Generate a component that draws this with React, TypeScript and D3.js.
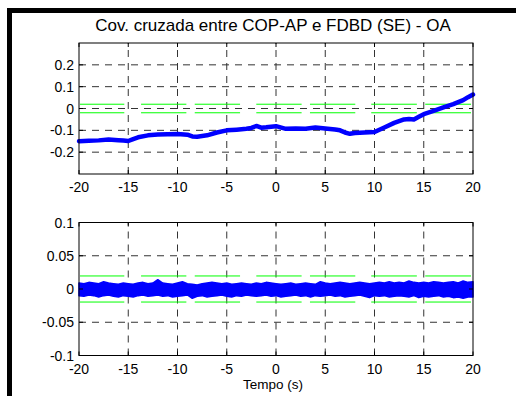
import React from "react";
import * as d3 from "d3";

const xTicks = [-20, -15, -10, -5, 0, 5, 10, 15, 20];
const topYTicks = [-0.2, -0.1, 0, 0.1, 0.2];
const botYTicks = [-0.1, -0.05, 0, 0.05, 0.1];

const topTime = [-20,-19,-18,-17,-16,-15.5,-15,-14.5,-14,-13,-12,-11,-10,-9,-8.5,-8,-7,-6,-5,-4,-3,-2.5,-2,-1.5,-1,0,1,2,3,4,5,6,6.5,7,7.5,8,9,10,11,12,13,13.5,14,14.5,15,16,17,18,19,19.5,20];
const topValue = [-0.150,-0.148,-0.146,-0.142,-0.145,-0.147,-0.149,-0.140,-0.132,-0.123,-0.119,-0.118,-0.117,-0.120,-0.128,-0.129,-0.123,-0.110,-0.100,-0.097,-0.093,-0.089,-0.080,-0.088,-0.086,-0.081,-0.093,-0.092,-0.093,-0.087,-0.092,-0.096,-0.100,-0.110,-0.116,-0.112,-0.110,-0.108,-0.087,-0.066,-0.050,-0.048,-0.050,-0.038,-0.026,-0.011,0.005,0.020,0.038,0.052,0.064];

// bottom: envelope of the noisy cross-covariance (thousandths), every 0.5 s from -20 to 20
const botUpper = [9,8,10,9,8,11,9,8,7,9, 8,7,9,10,8,9,14,9,8,7, 9,11,8,7,6,8,9,10,9,8, 9,7,8,9,8,7,9,8,10,9, 8,7,8,9,7,8,9,8,7,11, 9,8,9,10,9,8,9,10,9,8, 9,10,9,11,9,10,9,12,10,9, 10,9,11,10,9,10,11,9,12,10, 11];
const botLower = [-10,-11,-9,-10,-12,-10,-9,-11,-12,-10, -11,-12,-10,-9,-11,-10,-9,-11,-10,-12, -11,-10,-9,-14,-11,-10,-12,-11,-10,-9, -11,-12,-10,-11,-9,-10,-11,-10,-9,-11, -10,-12,-11,-10,-9,-11,-10,-12,-10,-11, -10,-9,-11,-10,-12,-11,-10,-9,-11,-13, -10,-11,-10,-12,-11,-10,-11,-12,-10,-13, -11,-12,-11,-10,-12,-11,-13,-12,-14,-12, -12];
const botTimeStart = -20;
const botTimeStep = 0.5;

const confidence = 0.0196;
const greenStart = [-19.9, -13.7, -8.25, -2.0, 3.45, 9.67, 15.15];
const greenEnd = [-15.4, -9.1, -3.65, 2.6, 8.05, 14.3, 19.8];

const title = "Cov. cruzada entre COP-AP e FDBD (SE) - OA";
const xLabel = "Tempo (s)";

const FONT = "'Liberation Sans', Arial, Helvetica, sans-serif";
const GRID = "#333";
const DASH = "7,6";

const x = d3.scaleLinear().domain([-20, 20]).range([79, 473]);
const yTop = d3.scaleLinear().domain([-0.3, 0.3]).range([174, 43]);
const yBot = d3.scaleLinear().domain([-0.1, 0.1]).range([355.5, 222.5]);

function fmt(v: number) {
  if (Math.abs(v) < 1e-9) return "0";
  return String(+v.toFixed(2));
}

function Axes({ y, yTicks }: { y: d3.ScaleLinear<number, number>; yTicks: number[] }) {
  const [x0, x1] = x.range();
  const [yb, yt] = y.range();
  const [dmin, dmax] = y.domain();
  return (
    <g>
      {xTicks.filter((t) => t > -20 && t < 20).map((t) => (
        <line key={"gx" + t} x1={x(t)} x2={x(t)} y1={yb} y2={yt} stroke={GRID} strokeDasharray={DASH} />
      ))}
      {yTicks.filter((t) => t > dmin + 1e-9 && t < dmax - 1e-9).map((t) => (
        <line key={"gy" + t} x1={x0} x2={x1} y1={y(t)} y2={y(t)} stroke={GRID} strokeDasharray={DASH} />
      ))}
      {greenStart.map((s, i) => (
        <g key={"gr" + i}>
          <line x1={x(s)} x2={x(greenEnd[i])} y1={y(confidence)} y2={y(confidence)} stroke="#00ff00" strokeWidth={1} />
          <line x1={x(s)} x2={x(greenEnd[i])} y1={y(-confidence)} y2={y(-confidence)} stroke="#00ff00" strokeWidth={1} />
        </g>
      ))}
    </g>
  );
}

function Frame({ y, yTicks }: { y: d3.ScaleLinear<number, number>; yTicks: number[] }) {
  const [x0, x1] = x.range();
  const [yb, yt] = y.range();
  return (
    <g>
      <rect x={x0} y={yt} width={x1 - x0} height={yb - yt} fill="none" stroke="#000" strokeWidth={1} />
      {xTicks.map((t) => (
        <g key={"tx" + t}>
          <line x1={x(t)} x2={x(t)} y1={yb} y2={yb - 4} stroke="#000" />
          <line x1={x(t)} x2={x(t)} y1={yt} y2={yt + 4} stroke="#000" />
          <text x={x(t)} y={yb + 18} textAnchor="middle" fontSize={14} fontFamily={FONT}>{fmt(t)}</text>
        </g>
      ))}
      {yTicks.map((t) => (
        <g key={"ty" + t}>
          <line x1={x0} x2={x0 + 4} y1={y(t)} y2={y(t)} stroke="#000" />
          <line x1={x1} x2={x1 - 4} y1={y(t)} y2={y(t)} stroke="#000" />
          <text x={x0 - 5} y={y(t) + 5} textAnchor="end" fontSize={14} fontFamily={FONT}>{fmt(t)}</text>
        </g>
      ))}
    </g>
  );
}

export default function App() {
  const topLine = d3.line<number>().x((_, i) => x(topTime[i])).y((v) => yTop(v)).curve(d3.curveLinear)(topValue) || "";
  const band = d3
    .area<number>()
    .x((_, i) => x(botTimeStart + i * botTimeStep))
    .y0((_, i) => yBot(botLower[i] / 1000))
    .y1((v) => yBot(v / 1000))(botUpper) || "";
  return (
    <svg width={516} height={396} style={{ position: "absolute", left: 0, top: 0, display: "block" }}>
      <rect x={0} y={0} width={516} height={396} fill="#fff" />
      <rect x={7} y={8} width={509} height={5} fill="#000" />
      <rect x={7} y={8} width={5} height={388} fill="#000" />
      <text x={273} y={31} textAnchor="middle" fontSize={17} fontFamily={FONT}>{title}</text>

      <Axes y={yTop} yTicks={topYTicks} />
      <path d={topLine} fill="none" stroke="#0000ff" strokeWidth={4.5} strokeLinejoin="round" strokeLinecap="round" />
      <Frame y={yTop} yTicks={topYTicks} />

      <Axes y={yBot} yTicks={botYTicks} />
      <path d={band} fill="#0000ff" stroke="#0000ff" strokeWidth={1.5} strokeLinejoin="round" />
      <Frame y={yBot} yTicks={botYTicks} />

      <text x={273} y={389} textAnchor="middle" fontSize={13.5} fontFamily={FONT}>{xLabel}</text>
    </svg>
  );
}
